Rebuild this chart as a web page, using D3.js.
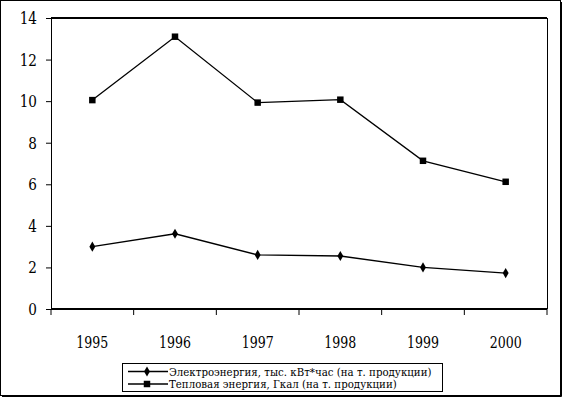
<!DOCTYPE html>
<html>
<head>
<meta charset="utf-8">
<script src="https://cdn.jsdelivr.net/npm/d3@7"></script>
<style>
  html, body { margin: 0; padding: 0; background: #fff; }
  svg { display: block; }
</style>
</head>
<body>
<div id="chart"></div>
<script>
// data
const years = ["1995", "1996", "1997", "1998", "1999", "2000"];
const electro = [3.0, 3.62, 2.6, 2.55, 2.0, 1.73];
const heat = [10.05, 13.1, 9.93, 10.07, 7.13, 6.12];
const yTicks = [0, 2, 4, 6, 8, 10, 12, 14];
const legendLabels = [
  "Электроэнергия, тыс. кВт*час  (на т. продукции)",
  "Тепловая энергия, Гкал (на т. продукции)"
];

// serif face that is actually available; squeezed a bit to look like Times
const FONT = "DejaVu Serif";

const W = 563, H = 398;
const margin = { top: 18, right: 16, bottom: 89, left: 51 };
const width = W - margin.left - margin.right,
  height = H - margin.top - margin.bottom;

const svg = d3.select("#chart").append("svg")
  .attr("width", W).attr("height", H)
  .attr("font-family", FONT);

// outer frame with shadow
svg.append("rect")
  .attr("x", 0.5).attr("y", 0.5)
  .attr("width", 560).attr("height", 395)
  .attr("fill", "#fff").attr("stroke", "#000");
svg.append("path")
  .attr("d", `M2,396.5H561.5V2`)
  .attr("fill", "none").attr("stroke", "#000").attr("stroke-width", 1);

const g = svg.append("g").attr("transform", `translate(${margin.left},${margin.top})`);

const x = d3.scaleBand().domain(years).range([0, width]);
const y = d3.scaleLinear().domain([0, 14]).range([height, 0]);

// plot area border (top thick, right thin)
g.append("line").attr("x1", 0).attr("x2", width).attr("y1", 0).attr("y2", 0)
  .attr("stroke", "#000").attr("stroke-width", 2);
g.append("line").attr("x1", width + 0.5).attr("x2", width + 0.5).attr("y1", 0).attr("y2", height)
  .attr("stroke", "#000").attr("stroke-width", 1);

// y axis
const yAxis = g.append("g")
  .call(d3.axisLeft(y).tickValues(yTicks).tickSize(5).tickFormat(d3.format("d")))
  .attr("font-family", FONT);
yAxis.select(".domain").attr("stroke-width", 1);
yAxis.selectAll(".tick text")
  .attr("x", null)
  .attr("transform", "translate(-14,0) scale(0.8,1)")
  .style("font-family", FONT)
  .style("font-size", "17px");

// x axis: ticks at category boundaries
const xAxis = g.append("g").attr("transform", `translate(0,${height})`);
xAxis.append("line").attr("x1", 0).attr("x2", width).attr("stroke", "#000").attr("stroke-width", 2);
xAxis.selectAll(".xt").data(d3.range(years.length + 1)).join("line")
  .attr("x1", (i) => i * x.bandwidth()).attr("x2", (i) => i * x.bandwidth())
  .attr("y1", 0).attr("y2", 6).attr("stroke", "#000");
xAxis.selectAll(".xl").data(years).join("text")
  .attr("transform", (d) => `translate(${x(d) + x.bandwidth() / 2},39) scale(0.74,1)`)
  .attr("text-anchor", "middle")
  .style("font-family", FONT)
  .style("font-size", "17px")
  .text((d) => d);

const cx = (i) => x(years[i]) + x.bandwidth() / 2;
const line = d3.line().x((d, i) => cx(i)).y((d) => y(d));

// series
g.append("path").datum(heat).attr("d", line)
  .attr("fill", "none").attr("stroke", "#000").attr("stroke-width", 1.3);
g.append("path").datum(electro).attr("d", line)
  .attr("fill", "none").attr("stroke", "#000").attr("stroke-width", 1.3);

const sq = d3.symbol().type(d3.symbolSquare).size(42);
const dia = d3.symbol().type(d3.symbolDiamond).size(30);

g.selectAll(".sq").data(heat).join("path")
  .attr("d", sq)
  .attr("transform", (d, i) => `translate(${cx(i)},${y(d)})`);
g.selectAll(".dia").data(electro).join("path")
  .attr("d", dia)
  .attr("transform", (d, i) => `translate(${cx(i)},${y(d)})`);

// legend
const leg = svg.append("g").attr("transform", "translate(122,363)");
leg.append("rect").attr("x", 0.5).attr("y", 0.5).attr("width", 320).attr("height", 28)
  .attr("fill", "#fff").attr("stroke", "#000");
const markers = [dia, sq];
legendLabels.forEach((lab, i) => {
  const ly = 8.5 + i * 12.5;
  leg.append("line").attr("x1", 6).attr("x2", 46).attr("y1", ly).attr("y2", ly)
    .attr("stroke", "#000").attr("stroke-width", 1.6);
  leg.append("path").attr("d", markers[i]).attr("transform", `translate(25,${ly})`);
  leg.append("text")
    .attr("transform", `translate(47,${ly + 4}) scale(0.93,1)`)
    .style("font-family", FONT)
    .style("font-size", "11px")
    .text(lab);
});
</script>
</body>
</html>
